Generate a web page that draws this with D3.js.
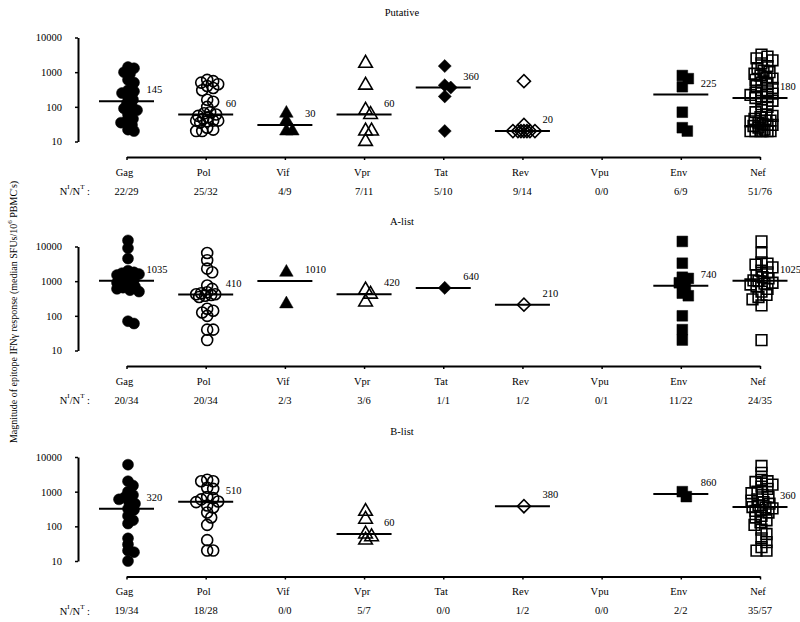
<!DOCTYPE html>
<html><head><meta charset="utf-8">
<script src="https://cdn.jsdelivr.net/npm/d3@7"></script>
<style>
body{margin:0;background:#fff}
svg text{font-family:"Liberation Serif","Times New Roman",serif;fill:#000}
</style></head><body>
<svg id="chart" width="800" height="622"></svg>
<script>
const categories = ["Gag","Pol","Vif","Vpr","Tat","Rev","Vpu","Env","Nef"];
const panelTitles = ["Putative","A-list","B-list"];
const yTicks = [10, 100, 1000, 10000];
const yAxisTitle = "Magnitude of epitope IFN\u03b3 response (median SFUs/10";
const yAxisTitleEnd = " PBMC's)";

// Putative
const putativeValues = [
  [1400,1300,1000,900,600,500,300,280,250,200,160,130,100,90,80,60,45,40,35,30,22,20],
  [600,550,500,450,400,350,300,160,140,100,70,65,60,55,50,45,40,40,40,38,35,25,22,20,20],
  [65,40,20,20],
  [1800,420,80,60,20,20,10],
  [1500,420,360,200,20],
  [550,30,20,20,20,20,20,20,20],
  [],
  [800,650,380,70,25,20],
  [3200,2800,2500,2200,1800,1500,1300,1100,1000,900,800,700,650,600,500,450,400,350,300,280,260,240,220,200,190,180,
   150,120,100,80,70,60,55,50,45,40,40,38,35,32,30,30,28,25,22,20,20,20,20,20,20]
];
const putativeMedians = [145,60,30,60,360,20,null,225,180];
const putativeCounts = ["22/29","25/32","4/9","7/11","5/10","9/14","0/0","6/9","51/76"];

// A-list
const aListValues = [
  [15000,9000,4500,2000,1800,1700,1600,1500,1300,1100,970,900,800,700,650,600,550,500,70,60],
  [6500,4000,2300,1800,750,600,480,450,420,420,400,380,350,160,140,125,100,40,40,20],
  [1800,220],
  [560,420,250],
  [640],
  [210],
  [],
  [14000,3300,1300,1200,900,740,450,380,100,40,20],
  [14000,6500,3500,3200,3000,2500,2000,1800,1500,1300,1200,1050,1000,900,850,800,700,600,500,400,350,300,200,20]
];
const aListMedians = [1035,410,1010,420,640,210,null,740,1025];
const aListCounts = ["20/34","20/34","2/3","3/6","1/1","1/2","0/1","11/22","24/35"];

// B-list
const bListValues = [
  [6000,2000,1500,1000,800,700,600,500,450,320,300,200,150,120,45,30,20,18,10],
  [2200,2000,2000,1300,1200,700,650,600,520,500,400,350,250,180,110,40,20,20],
  [],
  [270,160,60,50,40],
  [],
  [380],
  [],
  [1000,720],
  [5500,3500,2200,2000,1900,1600,1400,1200,1000,900,800,700,600,550,500,450,400,360,
   350,330,300,280,250,200,180,150,130,110,80,60,45,35,25,20,20]
];
const bListMedians = [320,510,null,60,null,380,null,860,360];
const bListCounts = ["19/34","18/28","0/0","5/7","0/0","1/2","0/0","2/2","35/57"];

// ---------- drawing ----------
const svg = d3.select("#chart");
const FONT = 10.5;

const panels = [
  {title: panelTitles[0], values: putativeValues, medians: putativeMedians, counts: putativeCounts, top: 37.5},
  {title: panelTitles[1], values: aListValues, medians: aListMedians, counts: aListCounts, top: 246.5},
  {title: panelTitles[2], values: bListValues, medians: bListMedians, counts: bListCounts, top: 457}
];
const PH = 104; // plot height 10 -> 10000

const x = d3.scalePoint().domain(categories).range([126.5, 760]);

const shapeOf = {
  Gag: {type: d3.symbolCircle, size: 95, filled: true},
  Pol: {type: d3.symbolCircle, size: 95, filled: false},
  Vif: {type: d3.symbolTriangle, size: 80, filled: true},
  Vpr: {type: d3.symbolTriangle, size: 80, filled: false},
  Tat: {type: d3.symbolSquare, size: 85, filled: true, rot: 45},
  Rev: {type: d3.symbolSquare, size: 85, filled: false, rot: 45},
  Vpu: {type: d3.symbolCircle, size: 95, filled: false},
  Env: {type: d3.symbolSquare, size: 115, filled: true},
  Nef: {type: d3.symbolSquare, size: 115, filled: false}
};

function swarm(vals, y) {
  const placed = [];
  const minD = 6, maxOff = 11;
  const cands = [0];
  for (let k = 1; k <= maxOff; k++) { cands.push(k, -k); }
  return vals.map(v => {
    const py = y(v);
    let chosen = null, bestScore = -1, bestOff = 0;
    for (const off of cands) {
      let md = Infinity;
      for (const p of placed) md = Math.min(md, Math.hypot(p.x - off, p.y - py));
      if (md >= minD) { chosen = off; break; }
      if (md > bestScore) { bestScore = md; bestOff = off; }
    }
    if (chosen === null) chosen = bestOff;
    placed.push({x: chosen, y: py});
    return {v, dx: chosen + 1.5, y: py};
  });
}

panels.forEach(p => {
  const y = d3.scaleLog().domain([10, 10000]).range([p.top + PH, p.top]);
  const g = svg.append("g");

  // title
  g.append("text").attr("x", 402).attr("y", p.top - 25.5)
    .attr("text-anchor", "middle").attr("dominant-baseline", "central")
    .style("font-size", FONT + "px").text(p.title);

  // y axis
  const ya = g.append("g").attr("transform", "translate(78,0)")
    .call(d3.axisLeft(y).tickValues(yTicks).tickFormat(d3.format("d")).tickSize(3).tickSizeOuter(0).tickPadding(13));
  ya.select(".domain").attr("stroke-width", 2).attr("stroke", "#000");
  ya.selectAll(".tick line").attr("stroke-width", 1.5);
  ya.selectAll("text").style("font-size", FONT + "px").style("font-family", "Liberation Serif");

  // x axis
  const axisY = p.top + PH + 15.5;
  const xa = g.append("g").attr("transform", `translate(0,${axisY})`)
    .call(d3.axisBottom(x).tickSize(3).tickSizeOuter(0).tickFormat(""));
  xa.select(".domain").attr("stroke-width", 2).attr("stroke", "#000");
  xa.selectAll(".tick line").attr("stroke-width", 1.5);

  // category labels
  g.selectAll(".cat").data(categories).join("text")
    .attr("x", d => x(d) - 2).attr("y", axisY + 15)
    .attr("text-anchor", "middle").attr("dominant-baseline", "central")
    .style("font-size", FONT + "px").text(d => d);

  // counts
  const nl = g.append("text").attr("x", 90).attr("y", axisY + 34)
    .attr("text-anchor", "end").attr("dominant-baseline", "central")
    .style("font-size", FONT + "px");
  nl.append("tspan").text("N");
  nl.append("tspan").attr("dy", -4).style("font-size", "7px").text("I");
  nl.append("tspan").attr("dy", 4).text("/N");
  nl.append("tspan").attr("dy", -4).style("font-size", "7px").text("T");
  nl.append("tspan").attr("dy", 4).text(" :");

  g.selectAll(".cnt").data(p.counts).join("text")
    .attr("x", (d, i) => x(categories[i])).attr("y", axisY + 34)
    .attr("text-anchor", "middle").attr("dominant-baseline", "central")
    .style("font-size", FONT + "px").text(d => d);

  // points
  categories.forEach((c, i) => {
    const vals = p.values[i];
    const sh = shapeOf[c];
    const pts = swarm(vals, y);
    const sym = d3.symbol().type(sh.type).size(sh.size);
    g.append("g").selectAll("path").data(pts).join("path")
      .attr("d", sym)
      .attr("transform", d => `translate(${x(c) + d.dx},${d.y})` + (sh.rot ? ` rotate(${sh.rot})` : ""))
      .attr("fill", sh.filled ? "#000" : "none")
      .attr("stroke", "#000")
      .attr("stroke-width", sh.filled ? 0.5 : 1.6);

    const m = p.medians[i];
    if (m != null) {
      const my = y(m);
      g.append("line").attr("x1", x(c) - 27.5).attr("x2", x(c) + 27.5)
        .attr("y1", my).attr("y2", my).attr("stroke", "#000").attr("stroke-width", 2);
      g.append("text").attr("x", x(c) + 20).attr("y", my - 8)
        .style("font-size", FONT + "px").text(m);
    }
  });
});

// y axis title
const yt = svg.append("text")
  .attr("transform", "translate(13,312) rotate(-90)")
  .attr("text-anchor", "middle").attr("dominant-baseline", "central")
  .style("font-size", "10px");
yt.append("tspan").text(yAxisTitle);
yt.append("tspan").attr("dy", -3).style("font-size", "7px").text("6");
yt.append("tspan").attr("dy", 3).text(yAxisTitleEnd);
</script>
</body></html>
